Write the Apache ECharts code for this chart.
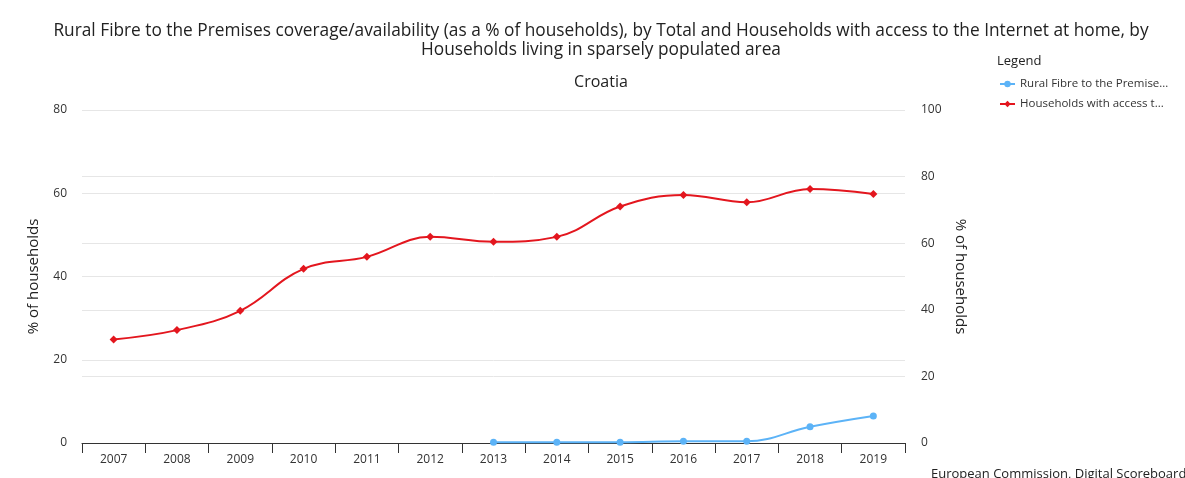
<!DOCTYPE html>
<html>
<head>
<meta charset="utf-8">
<script src="https://cdn.jsdelivr.net/npm/echarts@6/dist/echarts.min.js"></script>
<style>
html,body{margin:0;padding:0;background:#fff;}
#main{width:1185px;height:478px;}
</style>
</head>
<body>
<div id="main"></div>
<script>
var years = ['2007','2008','2009','2010','2011','2012','2013','2014','2015','2016','2017','2018','2019'];
var ruralFibre = [null,null,null,null,null,null,0.2,0.2,0.2,0.4,0.4,3.9,6.5];
var householdsAccess = [31.1,33.9,39.7,52.3,55.9,61.9,60.4,61.9,71.0,74.5,72.3,76.3,74.8];
var leftTicks = [0,20,40,60,80];
var rightTicks = [0,20,40,60,80,100];
var seriesNames = ['Rural Fibre to the Premises coverage/availability','Households with access to the Internet at home'];

var font = '"Open Sans", "Noto Sans", sans-serif';
var chart = echarts.init(document.getElementById('main'));
chart.setOption({
  animation: false,
  textStyle: {fontFamily: font},
  title: [{
    text: 'Rural Fibre to the Premises coverage/availability (as a % of households), by Total and Households with access to the Internet at home, by\nHouseholds living in sparsely populated area',
    left: 601, top: 22, textAlign: 'center', padding: 0,
    textStyle: {fontFamily: font, fontSize: 17.3, fontWeight: 'normal', color: '#222', lineHeight: 19}
  },{
    text: 'Croatia',
    left: 601, top: 74, textAlign: 'center', padding: 0,
    textStyle: {fontFamily: font, fontSize: 16, fontWeight: 'normal', color: '#222'}
  },{
    text: 'Legend',
    left: 997, top: 55, padding: 0,
    textStyle: {fontFamily: font, fontSize: 13, fontWeight: 'normal', color: '#222'}
  },{
    text: 'European Commission, Digital Scoreboard',
    left: 931, top: 468, padding: 0,
    textStyle: {fontFamily: font, fontSize: 13, fontWeight: 'normal', color: '#222'}
  }],
  legend: {
    orient: 'vertical', left: 999, top: 78, itemGap: 8, padding: 0,
    itemWidth: 15, itemHeight: 8,
    textStyle: {fontFamily: font, fontSize: 11.5, color: '#333', width: 150, overflow: 'truncate', ellipsis: '...'},
    data: seriesNames
  },
  grid: {left: 82, right: 280, top: 110, bottom: 35},
  xAxis: {
    type: 'category', data: years, boundaryGap: true,
    axisLine: {lineStyle: {color: '#333', width: 1}},
    axisTick: {show: true, length: 10, alignWithLabel: false, lineStyle: {color: '#333'}},
    axisLabel: {color: '#333', fontSize: 12, margin: 11, fontFamily: font}
  },
  yAxis: [{
    type: 'value', min: 0, max: 80, interval: 20,
    name: '% of households', nameLocation: 'middle', nameGap: 41,
    nameTextStyle: {fontFamily: font, fontSize: 15, color: '#222'},
    axisLine: {show: false}, axisTick: {show: false},
    axisLabel: {color: '#333', fontSize: 12, margin: 15, fontFamily: font},
    splitLine: {lineStyle: {color: '#e6e6e6'}}
  },{
    type: 'value', min: 0, max: 100, interval: 20,
    name: '% of households', nameLocation: 'middle', nameGap: 48, nameRotate: -90,
    nameTextStyle: {fontFamily: font, fontSize: 15, color: '#222'},
    axisLine: {show: false}, axisTick: {show: false},
    axisLabel: {color: '#333', fontSize: 12, margin: 16, fontFamily: font},
    splitLine: {lineStyle: {color: '#e6e6e6'}}
  }],
  series: [{
    name: seriesNames[0], type: 'line', yAxisIndex: 0, data: ruralFibre,
    smooth: 0.4, symbol: 'circle', symbolSize: 7,
    itemStyle: {color: '#5cb3f7'}, lineStyle: {width: 2, color: '#5cb3f7'}
  },{
    name: seriesNames[1], type: 'line', yAxisIndex: 1, data: householdsAccess,
    smooth: 0.4, symbol: 'diamond', symbolSize: 8,
    itemStyle: {color: '#e3161e'}, lineStyle: {width: 2, color: '#e3161e'}
  }]
});
</script>
</body>
</html>
